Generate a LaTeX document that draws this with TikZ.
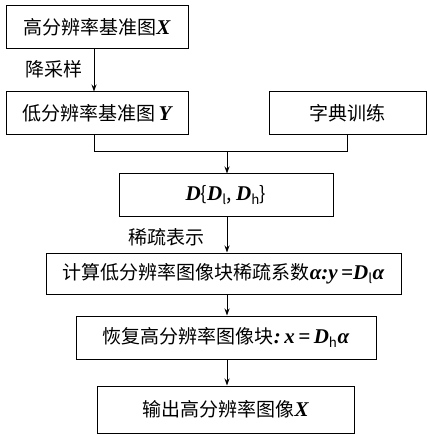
\documentclass[tikz,border=0pt]{standalone}
\usepackage{fontspec}
\setmainfont{Liberation Serif}
\newfontfamily\cjk{Noto Sans CJK SC}
\usetikzlibrary{arrows.meta, positioning}
\newcommand{\bi}[1]{{\rmfamily\bfseries\itshape\fontsize{21}{22}\selectfont #1}}

\begin{document}
\begin{tikzpicture}[x=1pt, y=-1pt,
  stepbox/.style={draw, line width=1pt, inner sep=0pt, minimum height=43pt,
                  font=\cjk\fontsize{19}{22}\selectfont},
  flow/.style={-{Stealth[length=7pt, width=5pt]}, line width=1pt},
  note/.style={font=\cjk\fontsize{19}{22}\selectfont}]
  \useasboundingbox (0,0) rectangle (427,435);

  % Boxes
  \node[stepbox, minimum width=182pt] (hires) at (97,27.5) {高分辨率基准图\bi{X}};
  \node[stepbox, minimum width=182pt] (lores) at (97,113.5) {低分辨率基准图\,\bi{Y}};
  \node[stepbox, minimum width=157pt] (train) at (347.5,113.5) {字典训练};
  \node[stepbox, minimum width=214pt, minimum height=42pt] (dict) at (226,195)
    {\bi{D}\{\bi{D}\textsubscript{l}, \bi{D}\textsubscript{h}\}};
  \node[stepbox, minimum width=355pt, minimum height=41pt] (coef) at (223.5,273.5)
    {计算低分辨率图像块稀疏系数\bi{α:y\,=D}\textsubscript{l}\bi{α}};
  \node[stepbox, minimum width=300pt] (recon) at (226,337.5)
    {恢复高分辨率图像块\bi{:\,x\,=\,D}\textsubscript{h}\bi{α}};
  \node[stepbox, minimum width=257pt, minimum height=47pt] (out) at (225.5,409.5)
    {输出高分辨率图像\bi{X}};

  % Joining lines
  \coordinate (drop) at (94,0);
  \coordinate (join) at (227,152);
  \draw[line width=1pt] (lores.south -| drop) -- (drop |- join) -| (train.south);
  \draw[flow] (join) -- (join |- dict.north);
  \draw[flow] (hires.south -| drop) -- (drop |- lores.north);
  \draw[flow] (dict.south -| join) -- (join |- coef.north);
  \draw[flow] (join |- coef.south) -- (join |- recon.north);
  \draw[flow] (join |- recon.south) -- (join |- out.north);

  % Labels
  \node[note] (down) at (54,69) {降采样};
  \node[note] (sparse) at (166,237) {稀疏表示};
\end{tikzpicture}
\end{document}
